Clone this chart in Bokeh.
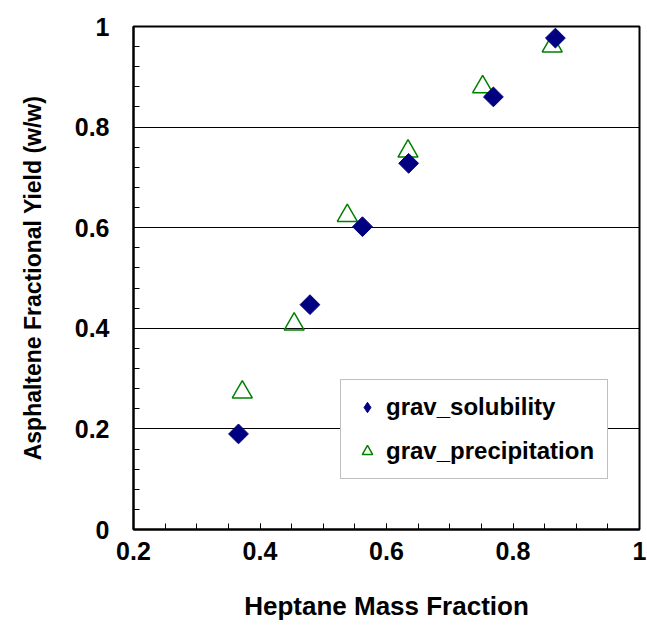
from bokeh.plotting import figure
from bokeh.models import (Range1d, SingleIntervalTicker, CustomJSTickFormatter,
                          Legend, LegendItem)
from bokeh.embed import file_html
from bokeh.resources import INLINE

# Data
sol_x = [0.366, 0.479, 0.562, 0.635, 0.769, 0.867]
sol_y = [0.190, 0.447, 0.602, 0.728, 0.860, 0.977]
prec_x = [0.372, 0.454, 0.538, 0.634, 0.752, 0.862]
prec_y = [0.273, 0.408, 0.624, 0.752, 0.880, 0.961]

x_title = "Heptane Mass Fraction"
y_title = "Asphaltene Fractional Yield (w/w)"
series_names = ["grav_solubility", "grav_precipitation"]

FONT = "Liberation Sans"

p = figure(frame_width=506, frame_height=503,
           min_border_left=133, min_border_right=8,
           min_border_top=26, min_border_bottom=107,
           x_range=Range1d(0.2, 1.0), y_range=Range1d(0, 1),
           output_backend="svg", toolbar_location=None,
           background_fill_color="white", border_fill_color="white")

p.outline_line_color = "black"
p.outline_line_width = 2

fmt = CustomJSTickFormatter(code="return String(Math.round(tick*100)/100);")

p.xaxis.ticker = SingleIntervalTicker(interval=0.2, num_minor_ticks=4)
p.yaxis.ticker = SingleIntervalTicker(interval=0.2, num_minor_ticks=5)

for ax in (p.xaxis[0], p.yaxis[0]):
    ax.formatter = fmt
    ax.axis_line_color = "black"
    ax.axis_line_width = 2
    ax.major_tick_in = 6
    ax.major_tick_out = 0
    ax.minor_tick_in = 6
    ax.minor_tick_out = 0
    ax.major_tick_line_color = "black"
    ax.minor_tick_line_color = "black"
    ax.major_label_text_font = FONT
    ax.major_label_text_font_style = "bold"
    ax.major_label_text_font_size = "25px"
    ax.major_label_text_color = "black"
    ax.axis_label_text_font = FONT
    ax.axis_label_text_font_style = "bold"
    ax.axis_label_text_color = "black"

p.xaxis.major_label_standoff = 12
p.yaxis.major_label_standoff = 24
p.xaxis.axis_label = x_title
p.yaxis.axis_label = y_title
p.xaxis.axis_label_text_font_size = "26px"
p.yaxis.axis_label_text_font_size = "23px"
p.xaxis.axis_label_standoff = 28
p.yaxis.axis_label_standoff = 26

p.xgrid.grid_line_color = None
p.ygrid.grid_line_color = "black"
p.ygrid.grid_line_width = 1

r_prec = p.scatter(prec_x, prec_y, marker="triangle", size=20,
                   line_color="#008000", line_width=1.5, fill_color=None)
r_sol = p.scatter(sol_x, sol_y, marker="square", size=14, angle=0.785398,
                  line_color="#000080", fill_color="#000080")

# legend-only glyphs (a single NaN point, so nothing shows in the plot)
nan = float("nan")
leg_sol = p.scatter([nan], [nan], marker="diamond", size=14,
                    line_color="#000080", fill_color="#000080")
leg_prec = p.scatter([nan], [nan], marker="triangle", size=14,
                     line_color="#008000", line_width=1.5, fill_color=None)

legend = Legend(items=[LegendItem(label=series_names[0], renderers=[leg_sol], index=0),
                       LegendItem(label=series_names[1], renderers=[leg_prec], index=0)],
                location=(207, 50))
legend.border_line_color = "#808080"
legend.border_line_width = 1
legend.background_fill_color = "white"
legend.background_fill_alpha = 1
legend.label_text_font = FONT
legend.label_text_font_style = "bold"
legend.label_text_font_size = "24px"
legend.label_text_color = "black"
legend.padding = 13
legend.margin = 0
legend.spacing = 16
legend.glyph_width = 26
legend.glyph_height = 26
legend.label_height = 24
legend.label_standoff = 6
p.add_layout(legend, "center")

open("out.html", "w").write(file_html(p, INLINE))
